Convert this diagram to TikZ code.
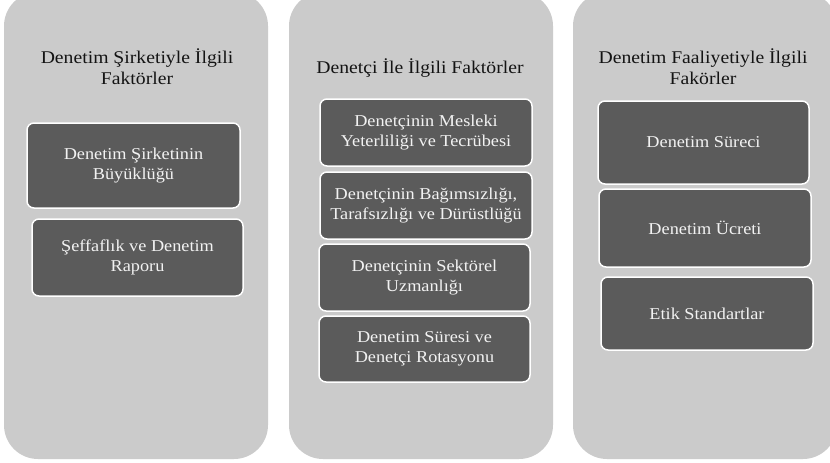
\documentclass[tikz,border=0pt]{standalone}
\usepackage{fontspec}
\setmainfont{Liberation Serif}[FakeStretch=1.1]
\definecolor{panelgray}{HTML}{CBCBCB}
\definecolor{boxgray}{HTML}{5B5B5B}
\definecolor{boxtext}{HTML}{F2F2F2}
\definecolor{titletext}{HTML}{141414}
\tikzset{
  panel/.style={fill=panelgray, draw=none, rounded corners=34pt},
  ptitle/.style={align=center, text=titletext, font=\fontsize{17.9}{21}\selectfont, inner sep=0pt},
  item/.style={fill=boxgray, draw=white, line width=1.5pt, rounded corners=7pt,
    text=boxtext, align=center, font=\fontsize{16.6}{20}\selectfont, inner sep=0pt}
}
\begin{document}
\begin{tikzpicture}[x=1pt, y=-1pt]
\useasboundingbox (0,0) rectangle (830,463);
\clip (0,0) rectangle (830,463);
% panels
\path[panel] (4,-8) rectangle (268,459);
\path[panel] (289,-8) rectangle (553,459);
\path[panel] (573,-8) rectangle (837,459);
% titles
\node[ptitle] (t1) at (137,67) {Denetim Şirketiyle İlgili\\Faktörler};
\node[ptitle] (t2) at (420,68) {Denetçi İle İlgili Faktörler};
\node[ptitle] (t3) at (703,67) {Denetim Faaliyetiyle İlgili\\Fakörler};
% panel 1 items
\node[item, minimum width=213pt, minimum height=85pt] (a1) at (133.5,165.5) {Denetim Şirketinin\\Büyüklüğü};
\node[item, minimum width=211pt, minimum height=77pt] (a2) at (137.5,257.5) {Şeffaflık ve Denetim\\Raporu};
% panel 2 items
\node[item, minimum width=212pt, minimum height=67pt] (b1) at (426,132.5) {Denetçinin Mesleki\\Yeterliliği ve Tecrübesi};
\node[item, minimum width=212pt, minimum height=67pt] (b2) at (426,205.5) {Denetçinin Bağımsızlığı,\\Tarafsızlığı ve Dürüstlüğü};
\node[item, minimum width=211pt, minimum height=67pt] (b3) at (424.5,277.5) {Denetçinin Sektörel\\Uzmanlığı};
\node[item, minimum width=211pt, minimum height=66pt] (b4) at (424.5,349) {Denetim Süresi ve\\Denetçi Rotasyonu};
% panel 3 items
\node[item, minimum width=211pt, minimum height=83pt] (c1) at (703.5,142.5) {Denetim Süreci};
\node[item, minimum width=212pt, minimum height=78pt] (c2) at (705,228) {Denetim Ücreti};
\node[item, minimum width=212pt, minimum height=73pt] (c3) at (707,313.5) {Etik Standartlar};
\end{tikzpicture}
\end{document}
